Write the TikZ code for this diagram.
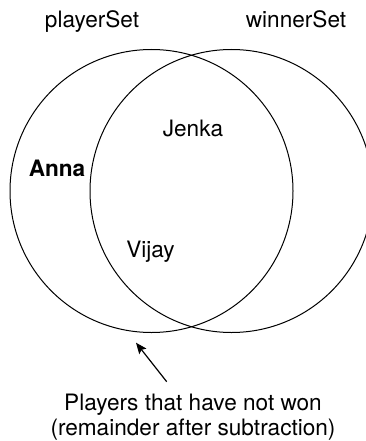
\documentclass[tikz,border=0pt]{standalone}
\usepackage{fontspec}
\setmainfont{TeX Gyre Heros}
\usetikzlibrary{arrows.meta}

\tikzset{
  setcircle/.style={draw, circle, line width=1pt, minimum size=283pt, inner sep=0pt},
  setname/.style={anchor=base, inner sep=0pt},
  member/.style={anchor=base, inner sep=0pt},
  pointer/.style={line width=1.2pt, -{Stealth[length=11pt, width=9pt, inset=2pt]}}
}

\begin{document}
\begin{tikzpicture}[x=1pt, y=-1pt, font=\fontsize{22.6}{24.4}\selectfont]
  \useasboundingbox (0,0) rectangle (366,441);
  \clip (0,0) rectangle (366,441);

  % the two sets
  \node[setcircle] (players) at (151.5,191) {};
  \node[setcircle] (winners) at (231.5,191) {};
  \node[setname] (playername) at (92,28) {playerSet};
  \node[setname] (winnername) at (296,28) {winnerSet};

  % members
  \node[member] (anna) at (57,176.7) {\bfseries Anna};
  \node[member] (jenka) at (193,136) {Jenka};
  \node[member] (vijay) at (150.5,257) {Vijay};

  % note on the difference
  \node[anchor=base, align=center, inner sep=0pt] (note) at (193,435)
    {Players that have not won\\(remainder after subtraction)};
  \coordinate (tail) at (166.7,381.7);
  \coordinate (remainder) at (136,342.7);
  \draw[pointer] (tail) -- (remainder);
\end{tikzpicture}
\end{document}
